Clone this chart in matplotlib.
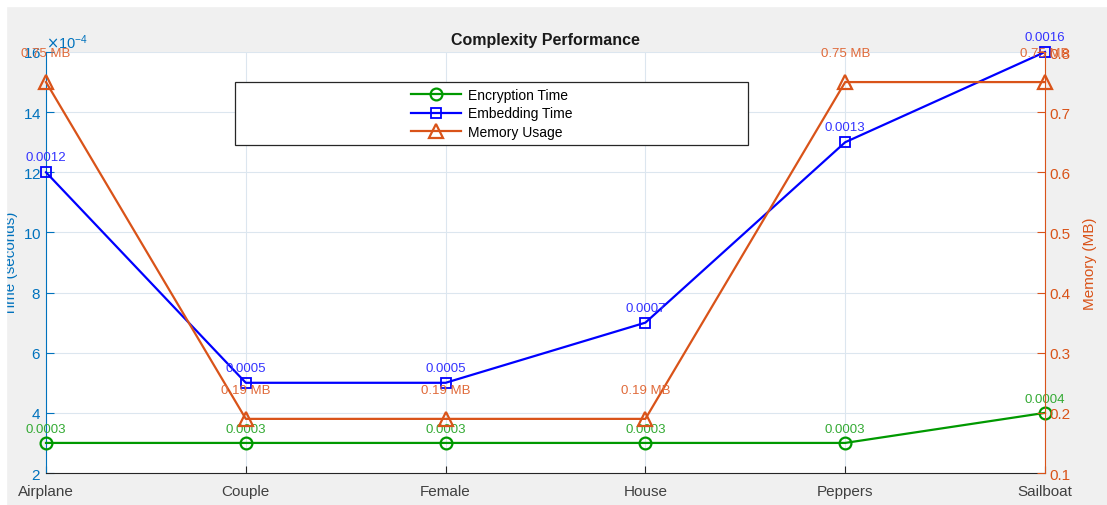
import numpy as np
import matplotlib
matplotlib.use("Agg")
import matplotlib.pyplot as plt
from matplotlib.ticker import ScalarFormatter
from matplotlib.patches import Rectangle

plt.rcParams['font.family'] = ['Liberation Sans', 'DejaVu Sans']

# data
images = ['Airplane', 'Couple', 'Female', 'House', 'Peppers', 'Sailboat']
encryption_time = [0.0003, 0.0003, 0.0003, 0.0003, 0.0003, 0.0004]
embedding_time = [0.0012, 0.0005, 0.0005, 0.0007, 0.0013, 0.0016]
memory_usage = [0.75, 0.19, 0.19, 0.19, 0.75, 0.75]

# MATLAB-ish colours
green = '#009900'
blue = '#0000ff'
orange = '#D95319'
axblue = '#0072BD'
bg = '#f0f0f0'

fig = plt.figure(figsize=(11.07, 5.06), dpi=100, facecolor=bg)
# white strips of the screenshot (drawn on top, they clip the left label)
fig.patches.append(Rectangle((0, 1 - 7/506), 1, 7/506, transform=fig.transFigure,
                             color='white', zorder=20))
fig.patches.append(Rectangle((0, 0), 6/1107, 1, transform=fig.transFigure,
                             color='white', zorder=20))

ax = fig.add_axes([46/1107, 1 - 474/506, 999/1107, 421/506])
ax.set_facecolor('white')
x = np.arange(len(images))

ax.plot(x, encryption_time, '-o', color=green, lw=1.6, ms=8.5, mfc='none', mew=1.6,
        label='Encryption Time', zorder=3, clip_on=False)
ax.plot(x, embedding_time, '-s', color=blue, lw=1.6, ms=6.5, mfc='none', mew=1.3,
        label='Embedding Time', zorder=3, clip_on=False)

ax2 = ax.twinx()
ax2.plot(x, memory_usage, '-^', color=orange, lw=1.6, ms=10, mfc='none', mew=1.6,
         label='Memory Usage', zorder=3, clip_on=False)

# value labels
for xi, v in zip(x, encryption_time):
    ax.annotate(f'{v:.4f}', (xi, v), xytext=(0, 14), textcoords='offset pixels',
                color='#33aa33', ha='center', va='center', fontsize=9.5)
for xi, v in zip(x, embedding_time):
    ax.annotate(f'{v:.4f}', (xi, v), xytext=(0, 15), textcoords='offset pixels',
                color='#3333ff', ha='center', va='center', fontsize=9.5)
for xi, v in zip(x, memory_usage):
    ax2.annotate(f'{v:.2f} MB', (xi, v), xytext=(0, 29), textcoords='offset pixels',
                 color='#e06a3a', ha='center', va='center', fontsize=9.5)

ax.set_xlim(0, 5)
ax.set_ylim(2e-4, 16e-4)
ax.set_yticks(np.arange(2, 17, 2) * 1e-4)
ax2.set_ylim(0.1, 0.8)
ax2.set_yticks(np.arange(0.1, 0.81, 0.1))

fmt = ScalarFormatter(useMathText=True)
fmt.set_powerlimits((-4, -4))
ax.yaxis.set_major_formatter(fmt)
ax.yaxis.get_offset_text().set_color(axblue)
ax.yaxis.get_offset_text().set_fontsize(10.5)

ax.set_xticks(x)
ax.set_xticklabels(images)
ax.grid(True, color='#dce6ef', lw=0.8)
ax.set_axisbelow(True)

ax.tick_params(axis='x', direction='in', length=5, colors='#262626', labelsize=11,
               labelcolor='#404040', pad=8)
ax.tick_params(axis='y', direction='in', length=6, colors=axblue, labelsize=11)
ax2.tick_params(axis='y', direction='in', length=6, colors=orange, labelsize=11)

for a in (ax, ax2):
    a.spines['top'].set_visible(False)
ax.spines['left'].set_color(axblue)
ax.spines['bottom'].set_color('#262626')
ax.spines['right'].set_visible(False)
ax2.spines['left'].set_visible(False)
ax2.spines['bottom'].set_visible(False)
ax2.spines['right'].set_color(orange)

ax.set_ylabel('Time (seconds)', color=axblue, fontsize=11)
ax.yaxis.set_label_coords(-0.028, 0.5)
ax2.set_ylabel('Memory (MB)', color=orange, fontsize=11)
ax2.yaxis.set_label_coords(1.038, 0.5)

ax.set_title('Complexity Performance', fontsize=11.5, fontweight='bold', color='#1a1a1a', pad=6)

# legend: centred entries in a wide box
h1, l1 = ax.get_legend_handles_labels()
h2, l2 = ax2.get_legend_handles_labels()
leg = ax2.legend(h1 + h2, l1 + l2, loc='center', bbox_to_anchor=(0.446, 0.854),
                 frameon=False, fontsize=10, handlelength=3.6, labelspacing=0.35,
                 handletextpad=0.5)
ax2.add_patch(Rectangle(((235 - 46) / 999, (474 - 146) / 421), (748 - 235) / 999, 63 / 421,
                        transform=ax2.transAxes, fill=True, facecolor='white',
                        edgecolor='#262626', lw=0.9, zorder=4))
leg.set_zorder(5)

fig.savefig('out.png', dpi=100, facecolor=bg)
